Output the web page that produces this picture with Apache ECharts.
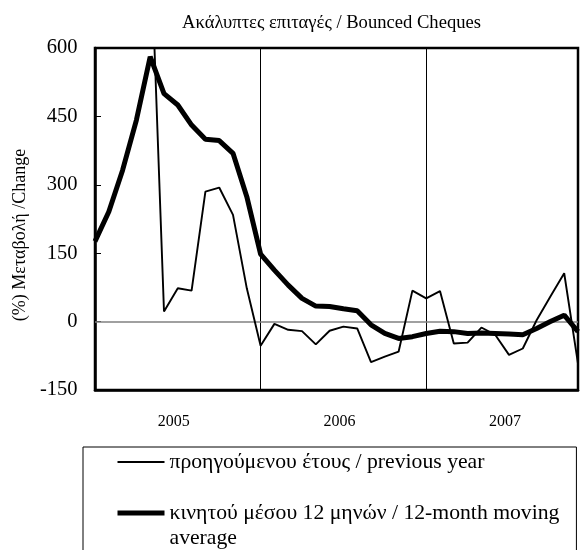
<!DOCTYPE html>
<html>
<head>
<meta charset="utf-8">
<script src="https://cdn.jsdelivr.net/npm/echarts@6/dist/echarts.min.js"></script>
<style>
html,body{margin:0;padding:0;background:#fff;overflow:hidden;}
#chart{width:581px;height:550px;}
</style>
</head>
<body>
<div id="chart"></div>
<script>
// Monthly data, Jan 2005 – Dec 2007
const months = [
  '2005-01','2005-02','2005-03','2005-04','2005-05','2005-06','2005-07','2005-08','2005-09','2005-10','2005-11','2005-12',
  '2006-01','2006-02','2006-03','2006-04','2006-05','2006-06','2006-07','2006-08','2006-09','2006-10','2006-11','2006-12',
  '2007-01','2007-02','2007-03','2007-04','2007-05','2007-06','2007-07','2007-08','2007-09','2007-10','2007-11','2007-12'
];
const yearLabels = ['2005', '2006', '2007'];
const yTicks = [-150, 0, 150, 300, 450, 600];

// (%) change over previous year (early values above the axis range are not readable)
const previousYear = [
  null, null, null, null, 860, 22, 73, 68, 285, 294, 234, 73,
  -53, -5, -18, -21, -50, -20, -11, -15, -89, -77, -66, 68,
  51, 67, -48, -46, -13, -29, -73, -59, 3, 55, 106, -92
];
// 12-month moving average
const movingAverage = [
  176, 241, 332, 442, 581, 500, 475, 431, 400, 397, 369, 274,
  148, 113, 80, 51, 34, 33, 28, 24, -7, -26, -37, -33,
  -26, -21, -22, -26, -25, -26, -27, -29, -15, 0, 14, -22
];

const seriesNames = [
  'προηγούμενου έτους / previous year',
  'κινητού μέσου 12 μηνών / 12-month moving average'
];
const titleText = 'Ακάλυπτες επιταγές / Bounced Cheques';
const yAxisName = '(%) Μεταβολή /Change';

const serif = '"Liberation Serif", "DejaVu Serif", serif';
const chart = echarts.init(document.getElementById('chart'), null, {renderer: 'canvas'});

chart.setOption({
  animation: false,
  backgroundColor: '#fff',
  title: {
    text: titleText,
    left: 182,
    top: 14,
    padding: 0,
    textStyle: {fontFamily: serif, fontSize: 18.6, fontWeight: 'normal', color: '#000'}
  },
  grid: {
    left: 95, right: -1, top: 48, bottom: 160,
    show: true, borderColor: '#000', borderWidth: 2.5, backgroundColor: 'transparent'
  },
  legend: {
    orient: 'vertical',
    left: 83,
    top: 447,
    height: 200,
    padding: [2.5, 17, 0, 32],
    itemGap: 1,
    itemWidth: 47,
    itemHeight: 14,
    borderColor: '#000',
    borderWidth: 1,
    itemStyle: {opacity: 0},
    textStyle: {fontFamily: serif, fontSize: 21.7, color: '#000', lineHeight: 25},
    formatter: function (name) {
      // second entry wraps "average" onto a new line; a blank first line keeps
      // the first text line level with the legend line sample
      return name === seriesNames[1] ? '\n' + name.replace(' average', '\naverage') : name;
    },
    data: [
      {name: seriesNames[0], lineStyle: {width: 2, color: '#000'}},
      {name: seriesNames[1], lineStyle: {width: 5, color: '#000'}}
    ]
  },
  xAxis: {
    type: 'category',
    data: months,
    boundaryGap: false,
    axisLine: {onZero: false, lineStyle: {color: '#000', width: 2.5}},
    axisTick: {show: false},
    axisLabel: {
      interval: 0,
      margin: 24,
      fontFamily: serif,
      fontSize: 16,
      color: '#000',
      padding: [0, 8, 0, 0],
      formatter: function (v, i) {
        return (i % 12 === 6) ? yearLabels[Math.floor(i / 12)] : '';
      }
    },
    splitLine: {
      show: true,
      interval: function (i) { return i === 12 || i === 24; },
      lineStyle: {color: '#000', width: 1}
    }
  },
  yAxis: {
    type: 'value',
    min: yTicks[0],
    max: yTicks[yTicks.length - 1],
    interval: 150,
    name: yAxisName,
    nameLocation: 'middle',
    nameGap: 61,
    nameTextStyle: {fontFamily: serif, fontSize: 18, color: '#000', padding: [0, 32, 0, 0]},
    axisLine: {show: true, lineStyle: {color: '#000', width: 2.5}},
    axisTick: {show: true, inside: true, length: 6, lineStyle: {color: '#000', width: 1}},
    axisLabel: {margin: 17.5, fontFamily: serif, fontSize: 20.5, color: '#000'},
    splitLine: {show: false}
  },
  series: [
    {
      name: seriesNames[0],
      type: 'line',
      data: previousYear,
      symbol: 'none',
      clip: true,
      lineStyle: {color: '#000', width: 1.9},
      itemStyle: {color: '#000'},
      z: 3,
      markLine: {
        silent: true,
        symbol: 'none',
        z: 1,
        label: {show: false},
        lineStyle: {color: '#808080', width: 1.5, type: 'solid'},
        data: [{yAxis: 0}]
      }
    },
    {
      name: seriesNames[1],
      type: 'line',
      data: movingAverage,
      symbol: 'none',
      clip: true,
      lineStyle: {color: '#000', width: 5},
      itemStyle: {color: '#000'},
      z: 4
    }
  ]
});
</script>
</body>
</html>
